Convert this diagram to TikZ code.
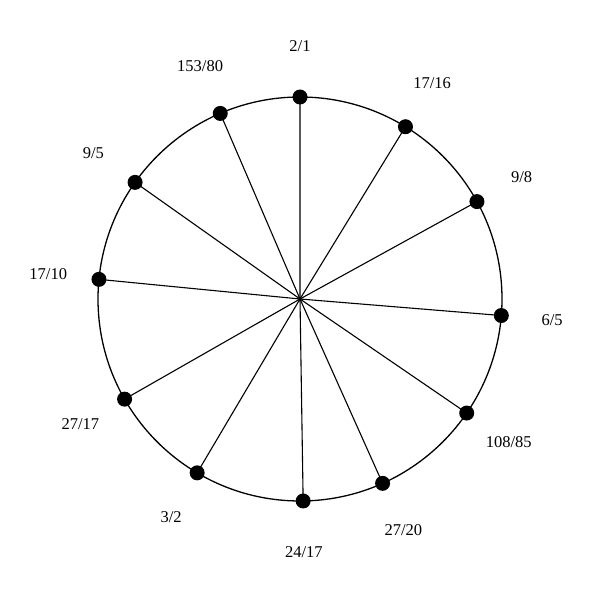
\documentclass[tikz,border=0pt]{standalone}
\usepackage{fontspec}
\setmainfont{Liberation Serif}
\usetikzlibrary{calc}
\begin{document}
\begin{tikzpicture}[x=1pt,y=1pt,
  ring/.style={line width=1.3pt},
  spoke/.style={line width=1.1pt},
  dotnode/.style={circle,fill=black,inner sep=0pt,minimum size=15pt},
  lbl/.style={font=\fontsize{16.5}{18}\selectfont,inner sep=0pt}]
\useasboundingbox (0,0) rectangle (600,600);
\coordinate (c) at (300,301);
\draw[ring] (c) circle (202);
\foreach \n/\d/\nm in {2/1/a,17/16/b,9/8/cc,6/5/d,108/85/e,27/20/f,24/17/g,3/2/h,27/17/i,17/10/j,9/5/k,153/80/l}{
  \pgfmathsetmacro{\ang}{90-360*ln(\n/\d)/ln(2)}
  \node[dotnode] (p\nm) at ($(c)+(\ang:202)$) {};
  \draw[spoke] (c) -- (p\nm.center);
  \node[lbl] (t\nm) at ($(c)+(\ang:253)$) {\n/\d};
}
\end{tikzpicture}
\end{document}
